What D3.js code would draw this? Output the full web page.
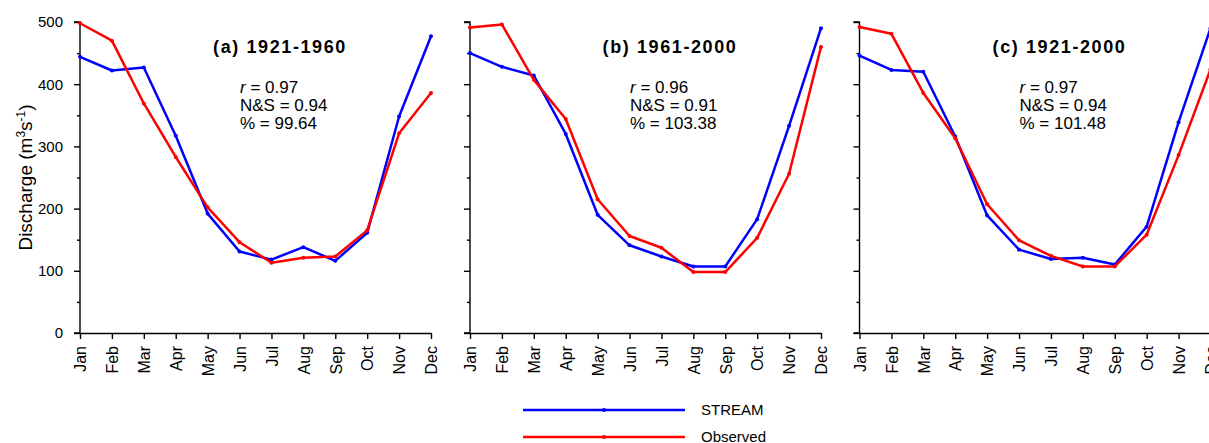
<!DOCTYPE html>
<html>
<head>
<meta charset="utf-8">
<script src="https://cdn.jsdelivr.net/npm/d3@7"></script>
<style>
  html, body { margin: 0; padding: 0; background: #fff; }
  svg { display: block; font-family: Arial, "Liberation Sans", sans-serif; }
</style>
</head>
<body>
<svg id="chart" width="1209" height="443"></svg>
<script>
const months = ["Jan","Feb","Mar","Apr","May","Jun","Jul","Aug","Sep","Oct","Nov","Dec"];
const yTicks = [0, 100, 200, 300, 400, 500];
const yMinorTicks = [50, 150, 250, 350, 450];

const panelTitles = ["(a) 1921-1960", "(b) 1961-2000", "(c) 1921-2000"];
const statR = ["0.97", "0.96", "0.97"];
const statNS = ["0.94", "0.91", "0.94"];
const statPct = ["99.64", "103.38", "101.48"];

const streamA   = [444, 422, 427, 317, 192, 131, 118, 138, 116, 161, 348, 477];
const observedA = [498, 470, 369, 283, 202, 146, 113, 121, 123, 165, 321, 386];
const streamB   = [450, 428, 414, 320, 190, 141, 123, 107, 107, 183, 333, 490];
const observedB = [491, 496, 407, 344, 215, 156, 137, 98, 98, 153, 256, 460];
const streamC   = [446, 423, 420, 316, 189, 134, 119, 121, 110, 171, 339, 490];
const observedC = [492, 481, 386, 313, 207, 149, 124, 107, 107, 158, 286, 424];

const seriesNames = ["STREAM", "Observed"];
const seriesColors = ["#0000ff", "#ff0000"];
const panelData = [[streamA, observedA], [streamB, observedB], [streamC, observedC]];

const svg = d3.select("#chart");
const plotW = 351, yTop = 22, yBot = 333;
const panelX0 = [80, 470, 859.5];

const y = d3.scaleLinear().domain([0, 500]).range([yBot, yTop]);

panelData.forEach((series, i) => {
  const x0 = panelX0[i];
  const x = d3.scalePoint().domain(months).range([x0, x0 + plotW]);
  const g = svg.append("g");

  // y axis
  const yAxis = d3.axisLeft(y).tickValues(yTicks).tickSize(6).tickPadding(11)
    .tickFormat(i === 0 ? d3.format("d") : () => "");
  const ya = g.append("g").attr("transform", `translate(${x0},0)`).call(yAxis);
  ya.select(".domain").attr("d", `M-6,${yTop}H0V${yBot}H-6`);
  g.append("g").attr("transform", `translate(${x0},0)`)
    .call(d3.axisLeft(y).tickValues(yMinorTicks).tickSize(3).tickFormat(""))
    .select(".domain").remove();

  // x axis
  const xa = g.append("g").attr("transform", `translate(0,${yBot})`)
    .call(d3.axisBottom(x).tickSize(6).tickSizeOuter(0));
  g.selectAll(".domain, .tick line").attr("stroke", "#000").attr("stroke-width", 1.4);
  g.selectAll(".tick text").attr("font-size", 15).attr("fill", "#000")
    .attr("font-family", "Arial, 'Liberation Sans', sans-serif");
  xa.selectAll("text")
    .attr("transform", "rotate(-90)")
    .attr("text-anchor", "end")
    .attr("font-size", 16)
    .attr("x", -13).attr("y", 0).attr("dy", "0.36em");

  // lines
  const line = d3.line().x((d, j) => x(months[j])).y(d => y(d));
  series.forEach((vals, s) => {
    g.append("path").datum(vals).attr("d", line)
      .attr("fill", "none").attr("stroke", seriesColors[s])
      .attr("stroke-width", 2.5).attr("stroke-linejoin", "round");
    g.selectAll(null).data(vals).enter().append("circle")
      .attr("cx", (d, j) => x(months[j])).attr("cy", d => y(d))
      .attr("r", 2).attr("fill", seriesColors[s]);
  });

  // title
  g.append("text").attr("x", x0 + 200).attr("y", 53)
    .attr("text-anchor", "middle").attr("font-size", 18).attr("font-weight", "bold")
    .attr("letter-spacing", "1.6px").text(panelTitles[i]);

  // stats
  const sx = x0 + 160;
  const t1 = g.append("text").attr("x", sx).attr("y", 93).attr("font-size", 17);
  t1.append("tspan").attr("font-style", "italic").text("r");
  t1.append("tspan").text(" = " + statR[i]);
  g.append("text").attr("x", sx).attr("y", 111).attr("font-size", 17).text("N&S = " + statNS[i]);
  g.append("text").attr("x", sx).attr("y", 129).attr("font-size", 17).text("% = " + statPct[i]);
});

// y label
const yl = svg.append("text")
  .attr("transform", `translate(32,${(yTop + yBot) / 2}) rotate(-90)`)
  .attr("text-anchor", "middle").attr("font-size", 19);
yl.append("tspan").text("Discharge (m");
yl.append("tspan").attr("font-size", 12).attr("dy", -7).text("3");
yl.append("tspan").attr("dy", 7).text("s");
yl.append("tspan").attr("font-size", 12).attr("dy", -7).text("-1");
yl.append("tspan").attr("dy", 7).text(")");

// legend
const legX1 = 523, legX2 = 685;
const legY = [410, 437];
seriesNames.forEach((name, s) => {
  svg.append("line").attr("x1", legX1).attr("x2", legX2)
    .attr("y1", legY[s]).attr("y2", legY[s])
    .attr("stroke", seriesColors[s]).attr("stroke-width", 2.5);
  svg.append("circle").attr("cx", (legX1 + legX2) / 2).attr("cy", legY[s])
    .attr("r", 2).attr("fill", seriesColors[s]);
  svg.append("text").attr("x", 701).attr("y", legY[s] + 5)
    .attr("font-size", 15).text(name);
});
</script>
</body>
</html>
